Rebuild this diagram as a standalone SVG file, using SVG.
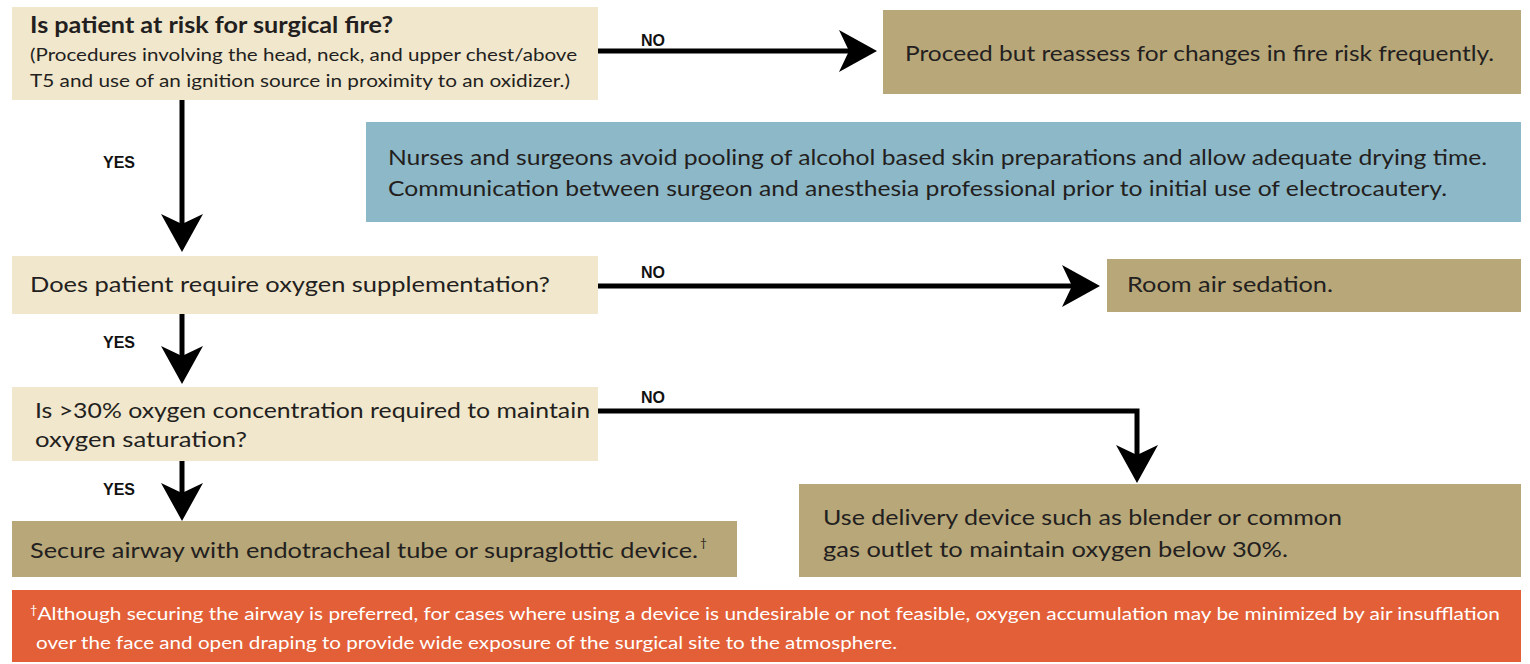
<svg xmlns="http://www.w3.org/2000/svg" width="1530" height="664" viewBox="0 0 1530 664">
<style>
.q{fill:#F1E7CD}
.a{fill:#B8A779}
.b{fill:#8CB8C8}
.f{fill:#E35F37}
.t{font-family:Lato,"Open Sans","Liberation Sans",sans-serif;fill:#231F20}
.w{font-family:Lato,"Open Sans","Liberation Sans",sans-serif;fill:#FFFFFF;font-size:18px}
.lbl{font-family:"Liberation Sans",Arial,sans-serif;font-weight:bold;font-size:16px;fill:#111}
.c{fill:none;stroke:#000;stroke-width:5}
</style>
<defs>
<marker id="ah" markerUnits="userSpaceOnUse" markerWidth="40" markerHeight="44" refX="10" refY="21" orient="auto" viewBox="0 0 40 44">
<path d="M0,0 L38,21 L0,42 L10,21 Z" fill="#000"/>
</marker>
</defs>
<rect width="1530" height="664" fill="#fff"/>
<g id="n1">
<rect class="q" x="12" y="7" width="586" height="93"/>
<text class="t" x="30" y="33" font-size="22" font-weight="bold" textLength="363" lengthAdjust="spacingAndGlyphs">Is patient at risk for surgical fire?</text>
<text class="t" x="30" y="61" font-size="18" textLength="547" lengthAdjust="spacingAndGlyphs">(Procedures involving the head, neck, and upper chest/above</text>
<text class="t" x="30" y="87" font-size="18" textLength="540" lengthAdjust="spacingAndGlyphs">T5 and use of an ignition source in proximity to an oxidizer.)</text>
</g>
<g id="n2">
<rect class="a" x="883" y="10" width="638" height="84"/>
<text class="t" x="905" y="61" font-size="22" textLength="589" lengthAdjust="spacingAndGlyphs">Proceed but reassess for changes in fire risk frequently.</text>
</g>
<g id="n3">
<rect class="b" x="366" y="122" width="1155" height="100"/>
<text class="t" x="388" y="165" font-size="21" textLength="1099" lengthAdjust="spacingAndGlyphs">Nurses and surgeons avoid pooling of alcohol based skin preparations and allow adequate drying time.</text>
<text class="t" x="388" y="196" font-size="21" textLength="1059" lengthAdjust="spacingAndGlyphs">Communication between surgeon and anesthesia professional prior to initial use of electrocautery.</text>
</g>
<g id="n4">
<rect class="q" x="12" y="256" width="586" height="58"/>
<text class="t" x="30" y="292" font-size="22" textLength="520" lengthAdjust="spacingAndGlyphs">Does patient require oxygen supplementation?</text>
</g>
<g id="n5">
<rect class="a" x="1107" y="259" width="414" height="53"/>
<text class="t" x="1127" y="292" font-size="22" textLength="206" lengthAdjust="spacingAndGlyphs">Room air sedation.</text>
</g>
<g id="n6">
<rect class="q" x="12" y="387" width="586" height="74"/>
<text class="t" x="35" y="418" font-size="22" textLength="555" lengthAdjust="spacingAndGlyphs">Is &gt;30% oxygen concentration required to maintain</text>
<text class="t" x="35" y="447" font-size="22" textLength="212" lengthAdjust="spacingAndGlyphs">oxygen saturation?</text>
</g>
<g id="n7">
<rect class="a" x="799" y="484" width="722" height="93"/>
<text class="t" x="823" y="525" font-size="22" textLength="519" lengthAdjust="spacingAndGlyphs">Use delivery device such as blender or common</text>
<text class="t" x="823" y="557" font-size="22" textLength="465" lengthAdjust="spacingAndGlyphs">gas outlet to maintain oxygen below 30%.</text>
</g>
<g id="n8">
<rect class="a" x="12" y="521" width="725" height="56"/>
<text class="t" x="30" y="558" font-size="22" textLength="668" lengthAdjust="spacingAndGlyphs">Secure airway with endotracheal tube or supraglottic device.</text>
<text class="t" x="700" y="547" font-size="12">†</text>
</g>
<g id="footer">
<rect class="f" x="12" y="590" width="1509" height="72"/>
<text class="w" x="30" y="620" textLength="1470" lengthAdjust="spacingAndGlyphs"><tspan font-size="11" dy="-6">†</tspan><tspan dy="6">Although securing the airway is preferred, for cases where using a device is undesirable or not feasible, oxygen accumulation may be minimized by air insufflation</tspan></text>
<text class="w" x="36" y="649" textLength="861" lengthAdjust="spacingAndGlyphs">over the face and open draping to provide wide exposure of the surgical site to the atmosphere.</text>
</g>
<g id="connectors">
<path class="c" d="M598,51 H849" marker-end="url(#ah)"/>
<path class="c" d="M182,100 V224" marker-end="url(#ah)"/>
<path class="c" d="M598,286 H1072" marker-end="url(#ah)"/>
<path class="c" d="M182,314 V356" marker-end="url(#ah)"/>
<path class="c" d="M182,461 V493" marker-end="url(#ah)"/>
<path class="c" d="M598,411 H1137 V455" marker-end="url(#ah)"/>
<text class="lbl" x="641" y="46">NO</text>
<text class="lbl" x="641" y="278">NO</text>
<text class="lbl" x="641" y="403">NO</text>
<text class="lbl" x="103" y="168">YES</text>
<text class="lbl" x="103" y="348">YES</text>
<text class="lbl" x="103" y="495">YES</text>
</g>
</svg>
